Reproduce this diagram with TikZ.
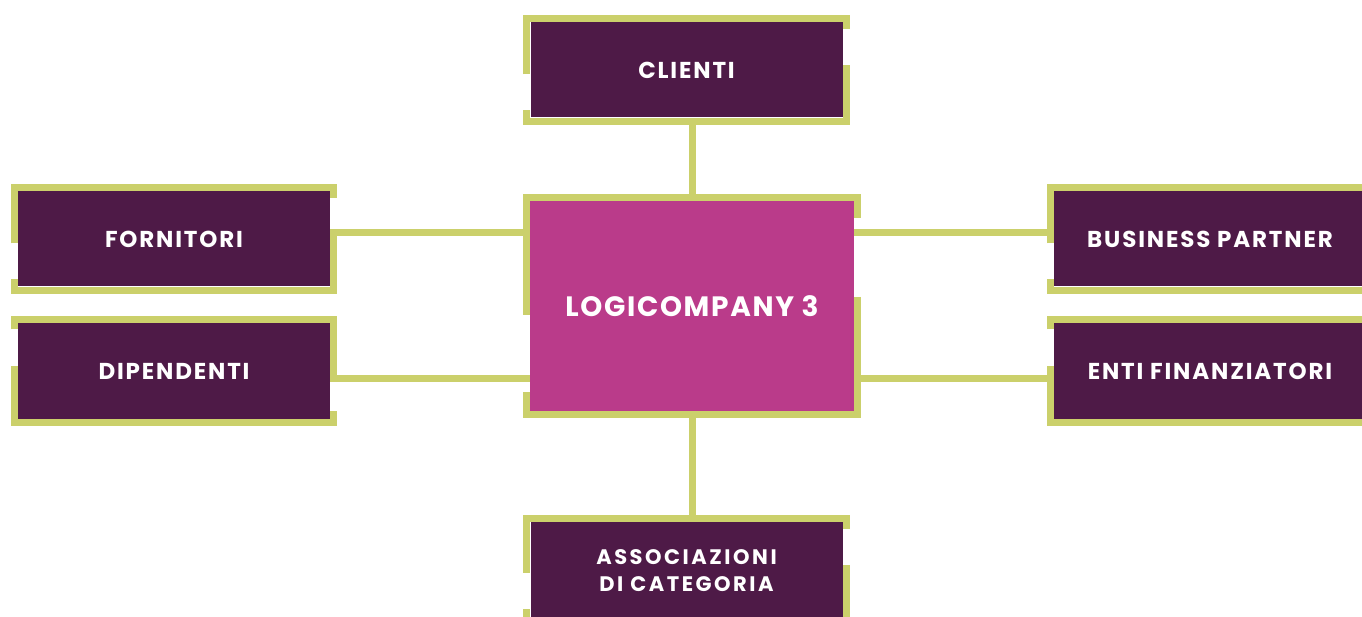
\documentclass[tikz,border=0pt]{standalone}
\usepackage{fontspec}
\setmainfont{Poppins}
\usepackage{tikz}
\usetikzlibrary{calc, backgrounds}
\usetikzlibrary{positioning}
\definecolor{prugna}{HTML}{4E1A47}
\definecolor{fucsia}{HTML}{BA3B8A}
\definecolor{verdino}{HTML}{CBD06B}
\NewDocumentCommand{\cornice}{%
    m       % node to frame
    mm      % gap on the left side (from, to), measured from the top
    mm      % gap on the right side (from, to)
    }{%
    \draw[cornice]
        ($(#1.north west)+(-3.5,#2)$) --($(#1.north west)+(-3.5,-3.5)$)
        --($(#1.north east)+(3.5,-3.5)$) --($(#1.north east)+(3.5,#4)$);
    \draw[cornice]
        ($(#1.north east)+(3.5,#5)$) --($(#1.south east)+(3.5,3.5)$)
        --($(#1.south west)+(-3.5,3.5)$) --($(#1.north west)+(-3.5,#3)$);
}

\begin{document}
\begin{tikzpicture}[x=1pt, y=-1pt,
    riquadro/.style={fill=prugna, text=white, inner sep=0pt,
        minimum width=312pt, minimum height=95pt,
        font=\bfseries\fontsize{23}{26}\selectfont\addfontfeatures{LetterSpace=8}},
    cornice/.style={draw=verdino, line width=7pt, line join=miter},
    legame/.style={draw=verdino, line width=7pt}]
    \useasboundingbox (0,0) rectangle (1362,617);
    \node[riquadro] (clienti) at (686.5,70) {CLIENTI};
    \node[riquadro] (fornitori) at (174,239) {FORNITORI};
    \node[riquadro] (dipendenti) at (174,371) {DIPENDENTI};
    \node[riquadro] (business) at (1210,239) {BUSINESS PARTNER};
    \node[riquadro] (enti) at (1210,371) {ENTI FINANZIATORI};
    \node[riquadro, minimum height=97pt, align=center,
        font=\bfseries\fontsize{21}{27}\selectfont\addfontfeatures{LetterSpace=12}]
        (associazioni) at (686.5,570.5) {ASSOCIAZIONI\\DI CATEGORIA};
    \node[riquadro, fill=fucsia, minimum width=324pt, minimum height=210pt,
        font=\bfseries\fontsize{28}{32}\selectfont\addfontfeatures{LetterSpace=6}]
        (logico) at (692,306) {LOGICOMPANY 3};
    \begin{scope}[on background layer]
        \draw[legame] (logico.north) --(logico.north |- clienti.south);
        \draw[legame] (logico.south) --(logico.south |- associazioni.north);
        \draw[legame] ([yshift=6pt]fornitori.east) --([yshift=6pt]business.west);
        \draw[legame] ([yshift=-7.5pt]dipendenti.east) --([yshift=-7.5pt]enti.west);
        \cornice{clienti}{52}{88}{7}{43}
        \cornice{fornitori}{52}{88}{7}{43}
        \cornice{dipendenti}{6}{43}{52}{88}
        \cornice{business}{52}{88}{7}{43}
        \cornice{enti}{6}{43}{52}{88}
        \cornice{associazioni}{51}{87}{7}{43}
        \cornice{logico}{114}{191}{17}{96}
    \end{scope}
\end{tikzpicture}
\end{document}
